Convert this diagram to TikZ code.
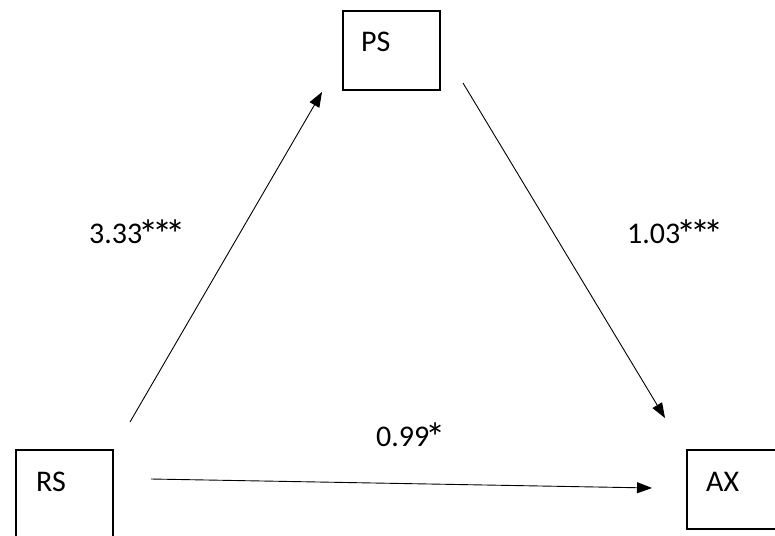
\documentclass[tikz,border=0pt]{standalone}
\usepackage{fontspec}
\usepackage{graphicx}
\setmainfont{Carlito}
\usetikzlibrary{arrows.meta}
\newcommand\sigast{\makebox[13.3pt]{\raisebox{-5.5pt}{\scalebox{1.35}{*}}}}
\begin{document}
\begin{tikzpicture}[x=1pt,y=-1pt,
  box/.style={draw=black,line width=1.6pt,inner sep=0pt,anchor=north west},
  lbl/.style={anchor=base west,inner sep=0pt,font=\fontsize{30}{34}\selectfont},
  conn/.style={line width=0.9pt,-{Triangle[length=15pt,width=11pt]}}]
\useasboundingbox (0,0) rectangle (775,535);
% boxes
\node[box,minimum width=97pt,minimum height=79pt] (ps) at (342,10) {};
\node[box,minimum width=97pt,minimum height=95pt] (rs) at (15,449) {};
\node[box,minimum width=100pt,minimum height=79pt] (ax) at (686,449) {};
% box texts
\node[lbl] (pst) at (361,52) {PS};
\node[lbl] (rst) at (36,491) {RS};
\node[lbl] (axt) at (706,491) {AX};
% connector ends
\coordinate (rsA) at (130,422);
\coordinate (psA) at (322,92);
\coordinate (psB) at (463,83);
\coordinate (axB) at (665,418);
\coordinate (rsC) at (151,479);
\coordinate (axC) at (652,488);
\draw[conn] (rsA) -- (psA);
\draw[conn] (psB) -- (axB);
\draw[conn] (rsC) -- (axC);
% path labels
\node[lbl] (l1) at (89,243) {3.33\sigast\sigast\sigast};
\node[lbl] (l2) at (627,243) {1.03\sigast\sigast\sigast};
\node[lbl] (l3) at (376,446) {0.99\sigast};
\end{tikzpicture}
\end{document}
